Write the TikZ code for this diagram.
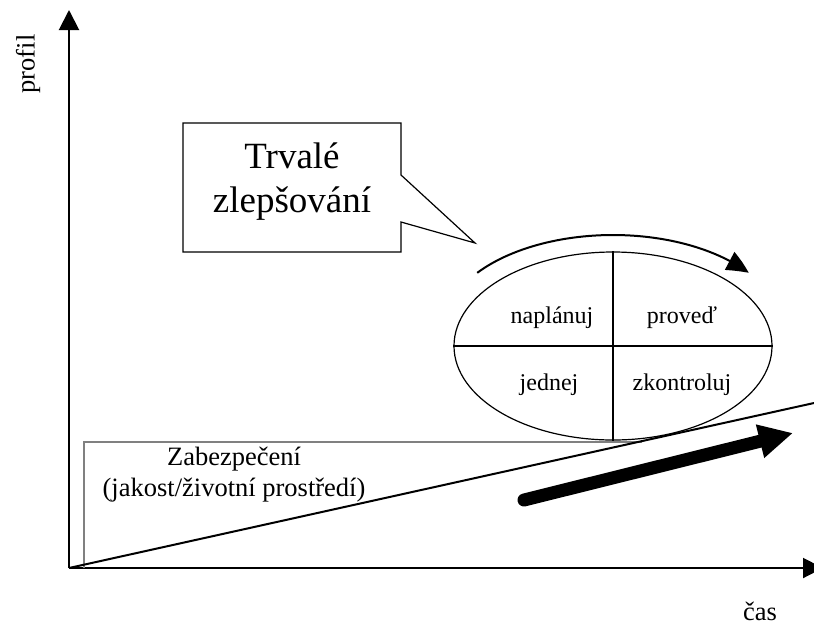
\documentclass[tikz,border=0pt]{standalone}
\usepackage{fontspec}
\setmainfont{Liberation Serif}
\usetikzlibrary{arrows.meta,shapes.geometric,bending}
\definecolor{framegray}{RGB}{128,128,128}
\begin{document}
\begin{tikzpicture}[x=1pt,y=-1pt,
  axis/.style={line width=2pt,-{Triangle[length=20pt,width=20pt]}},
  lbl/.style={font=\fontsize{26.5}{30}\selectfont, inner sep=0pt, anchor=base},
  cell/.style={font=\fontsize{24}{28}\selectfont, inner sep=0pt, anchor=base},
  big/.style={font=\fontsize{37}{44}\selectfont, inner sep=0pt, anchor=base},
  frame/.style={draw=framegray, line width=1.5pt},
]
\useasboundingbox (0,0) rectangle (814,625);
\clip (0,0) rectangle (814,625);

% axes
\coordinate (O) at (69,568);
\coordinate (ytip) at (69,10);
\coordinate (xtip) at (823,568);
\draw[axis] (O) -- (ytip);
\draw[axis] (O) -- (xtip);
\node[lbl, rotate=90, anchor=center] (ylab) at (28,64) {profil};
\node[lbl, text depth=0pt] (xlab) at (760,620) {čas};

% base level frame
\coordinate (fa) at (84,568);
\coordinate (fb) at (84,442);
\coordinate (fc) at (642,442);
\draw[frame] (fa) -- (fb) -- (fc);
\node[lbl] (z1) at (234,465) {Zabezpečení};
\node[lbl] (z2) at (234,496) {(jakost/životní prostředí)};

% rising trend line
\coordinate (diagend) at (814,403);
\draw[line width=2pt] (O) -- (diagend);

% thick trend arrow
\coordinate (ta) at (524,500);
\coordinate (tb) at (793,433);
\draw[line width=13pt, line cap=round, -{Triangle[length=34pt,width=32pt]}] (ta) -- (tb);

% PDCA cycle
\node[draw, ellipse, minimum width=318pt, minimum height=188pt, inner sep=0pt, line width=1.2pt] (pdca) at (613,346) {};
\draw[line width=1.2pt] (pdca.north) -- (pdca.south);
\draw[line width=1.2pt] (pdca.west) -- (pdca.east);
\node[cell] (c1) at (552,323) {naplánuj};
\node[cell] (c2) at (682,323) {proveď};
\node[cell] (c3) at (549,390) {jednej};
\node[cell] (c4) at (682,390) {zkontroluj};

% rotation arrow over the cycle
\path (613,330) ++(-143:170 and 95) coordinate (arcstart);
\draw[line width=2pt, -{Triangle[length=22pt,width=20pt,bend]}] (arcstart) arc[start angle=-143, end angle=-37, x radius=170, y radius=95];

% callout
\draw[line width=1.2pt, fill=white] (183,123) -- (401,123) -- (401,175) -- (475,243) -- (401,222) -- (401,252) -- (183,252) -- cycle;
\node[big] (t1) at (292,168) {Trvalé};
\node[big] (t2) at (292,212) {zlepšování};
\end{tikzpicture}
\end{document}
